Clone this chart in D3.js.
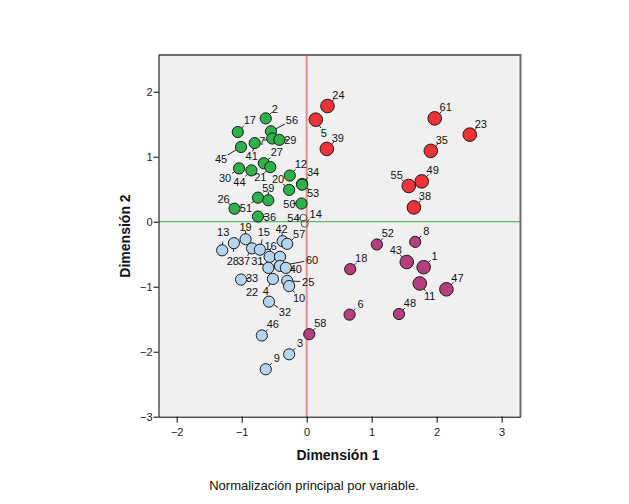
<!DOCTYPE html>
<html>
<head>
    <title>Dimension plot</title>
    <script src="https://d3js.org/d3.v7.min.js"></script>
    <style>
        body { margin: 0; background: #fff; font-family: "Liberation Sans", Arial, sans-serif; }
        .tick text { font-size: 11px; fill: #222; }
        .ptlabel { font-size: 11px; fill: #111; }
        .axis-title { font-size: 14px; font-weight: bold; fill: #111; }
    </style>
</head>
<body>
    <div id="chart"></div>

    <script>
        // point numbers, coordinates on both dimensions and cluster
        const pointIds = [2, 17, 56, 7, 29, 41, 45, 27, 21, 30, 44, 12, 34, 53, 20, 50, 51, 59, 26, 36,
                          54, 14,
                          13, 28, 19, 37, 15, 42, 57, 16, 22, 31, 60, 40, 33, 4, 25, 10, 32, 46, 3, 9,
                          24, 5, 39, 61, 23, 35, 49, 55, 38,
                          52, 8, 43, 1, 18, 11, 47, 6, 48, 58];
        const dim1 = [-0.63, -1.06, -0.55, -0.53, -0.42, -0.80, -1.01, -0.66, -0.56, -1.04, -0.85, -0.26, -0.07, -0.07, -0.27, -0.08, -0.75, -0.59, -1.11, -0.75,
                      -0.05, -0.03,
                      -1.30, -1.12, -0.94, -0.84, -0.72, -0.37, -0.30, -0.57, -0.41, -0.59, -0.41, -0.32, -1.01, -0.52, -0.30, -0.27, -0.58, -0.69, -0.27, -0.63,
                      0.32, 0.14, 0.31, 1.97, 2.51, 1.91, 1.77, 1.57, 1.65,
                      1.08, 1.67, 1.54, 1.80, 0.67, 1.74, 2.15, 0.66, 1.42, 0.04];
        const dim2 = [1.59, 1.38, 1.39, 1.28, 1.26, 1.21, 1.15, 0.90, 0.84, 0.82, 0.79, 0.71, 0.58, 0.57, 0.49, 0.28, 0.37, 0.33, 0.20, 0.08,
                      0.06, -0.03,
                      -0.44, -0.33, -0.27, -0.41, -0.43, -0.30, -0.34, -0.54, -0.54, -0.71, -0.68, -0.71, -0.89, -0.88, -0.91, -0.99, -1.23, -1.75, -2.04, -2.27,
                      1.78, 1.57, 1.12, 1.59, 1.34, 1.09, 0.62, 0.55, 0.22,
                      -0.35, -0.31, -0.62, -0.70, -0.73, -0.95, -1.04, -1.43, -1.42, -1.73];
        const cluster = [].concat(
            Array(20).fill("A"), Array(2).fill("none"), Array(20).fill("B"),
            Array(9).fill("C"), Array(10).fill("D"));
        const largeIds = [24, 5, 39, 61, 23, 35, 49, 55, 38, 43, 1, 11, 47];

        const xTicks = [-2, -1, 0, 1, 2, 3];
        const yTicks = [-3, -2, -1, 0, 1, 2];

        // label placement relative to the mark (px)
        const labelOffset = {
            2: [9, -9], 17: [12, -12], 56: [21, -11], 7: [-10, 2], 29: [11, 0], 41: [-3, 13],
            45: [-20, 12], 27: [13, -11], 21: [-10, 10], 30: [-14, 10], 44: [-12, 12], 12: [11, -12],
            34: [11, -12], 53: [11, 8], 20: [-11, -11], 50: [-12, 0], 51: [-12, 10], 59: [0, -12],
            26: [-11, -10], 36: [12, 0], 54: [-10, 0], 14: [11, -10],
            13: [1, -18], 28: [-1, 18], 19: [0, -12], 37: [-8, 13], 15: [4, -18], 42: [-1, -12],
            57: [12, -10], 16: [1, -11], 22: [-28, 35], 31: [-11, -7], 60: [32, -6], 40: [10, 1],
            33: [11, -2], 4: [-7, 12], 25: [21, 1], 10: [10, 12], 32: [16, 10],
            5: [8, 13], 55: [-12, -11], 43: [-11, -12], 11: [10, 13]
        };
        const defaultOffset = [11, -11];
        const leaderIds = [56, 45, 15, 60, 25, 32];

        const fillColor = { A: "#2db24a", B: "#b3d5f0", C: "#ee3338", D: "#b53e7e", none: "none" };

        const width = 629, height = 504;
        const svg = d3.select("#chart").append("svg")
            .attr("width", width)
            .attr("height", height);

        const x = d3.scaleLinear().domain([-2.28, 3.29]).range([158.5, 520.5]);
        const y = d3.scaleLinear().domain([-3, 2.565]).range([416.7, 55]);

        svg.append("rect")
            .attr("x", x.range()[0]).attr("y", y.range()[1])
            .attr("width", x.range()[1] - x.range()[0])
            .attr("height", y.range()[0] - y.range()[1])
            .attr("fill", "#f0f0f0");

        // reference lines at 0
        svg.append("line")
            .attr("x1", x.range()[0]).attr("x2", x.range()[1])
            .attr("y1", y(0)).attr("y2", y(0))
            .attr("stroke", "#3cae48").attr("stroke-width", 1);
        svg.append("line")
            .attr("x1", x(0)).attr("x2", x(0))
            .attr("y1", y.range()[0]).attr("y2", y.range()[1])
            .attr("stroke", "#ef8c8c").attr("stroke-width", 2);

        // top/right frame
        svg.append("path")
            .attr("d", `M${x.range()[0]},${y.range()[1]}H${x.range()[1]}V${y.range()[0]}`)
            .attr("fill", "none").attr("stroke", "#6e6e6e").attr("stroke-width", 2);

        const xAxis = svg.append("g")
            .attr("transform", `translate(0,${y.range()[0]})`)
            .call(d3.axisBottom(x).tickValues(xTicks).tickSize(6).tickSizeOuter(0).tickFormat(d3.format("d")));
        const yAxis = svg.append("g")
            .attr("transform", `translate(${x.range()[0]},0)`)
            .call(d3.axisLeft(y).tickValues(yTicks).tickSize(5).tickSizeOuter(0).tickFormat(d3.format("d")));
        [xAxis, yAxis].forEach(a => {
            a.select(".domain").attr("stroke", "#000");
            a.selectAll(".tick line").attr("stroke", "#000");
            a.selectAll(".tick text").style("font-family", "Liberation Sans, Arial, sans-serif");
        });
        xAxis.selectAll(".tick text").attr("dy", "0.9em");
        yAxis.selectAll(".tick text").attr("x", -6);

        const points = pointIds.map((id, i) => {
            const off = labelOffset[id] || defaultOffset;
            const r = cluster[i] === "none" ? 3.5 : (largeIds.includes(id) ? 6.8 : 5.6);
            return { id, d1: dim1[i], d2: dim2[i], c: cluster[i], r, dx: off[0], dy: off[1] };
        });

        // short leader ticks toward the labels
        function leaderEnd(d, useStart) {
            const len = Math.hypot(d.dx, d.dy);
            const dist = useStart ? d.r - 1 : (leaderIds.includes(d.id) ? len - 8 : d.r + 3);
            return [x(d.d1) + d.dx / len * dist, y(d.d2) + d.dy / len * dist];
        }
        svg.append("g").selectAll("line")
            .data(points)
            .join("line")
            .attr("x1", d => leaderEnd(d, true)[0])
            .attr("y1", d => leaderEnd(d, true)[1])
            .attr("x2", d => leaderEnd(d, false)[0])
            .attr("y2", d => leaderEnd(d, false)[1])
            .attr("stroke", "#222").attr("stroke-width", 1);

        svg.append("g").selectAll("circle")
            .data(points)
            .join("circle")
            .attr("cx", d => x(d.d1))
            .attr("cy", d => y(d.d2))
            .attr("r", d => d.r)
            .attr("fill", d => fillColor[d.c])
            .attr("stroke", d => d.c === "none" ? "#555" : "#1a1a1a")
            .attr("stroke-width", 1);

        svg.append("g").selectAll("text")
            .data(points)
            .join("text")
            .attr("class", "ptlabel")
            .attr("x", d => x(d.d1) + d.dx)
            .attr("y", d => y(d.d2) + d.dy)
            .attr("text-anchor", "middle")
            .attr("dominant-baseline", "central")
            .text(d => d.id);

        svg.append("text")
            .attr("class", "axis-title")
            .attr("x", 338).attr("y", 460)
            .attr("text-anchor", "middle")
            .text("Dimensión 1");
        svg.append("text")
            .attr("class", "axis-title")
            .attr("transform", "translate(130,236) rotate(-90)")
            .attr("text-anchor", "middle")
            .text("Dimensión 2");
        svg.append("text")
            .attr("x", 314).attr("y", 490)
            .attr("text-anchor", "middle")
            .style("font-size", "13px")
            .attr("fill", "#111")
            .text("Normalización principal por variable.");
    </script>
</body>
</html>
